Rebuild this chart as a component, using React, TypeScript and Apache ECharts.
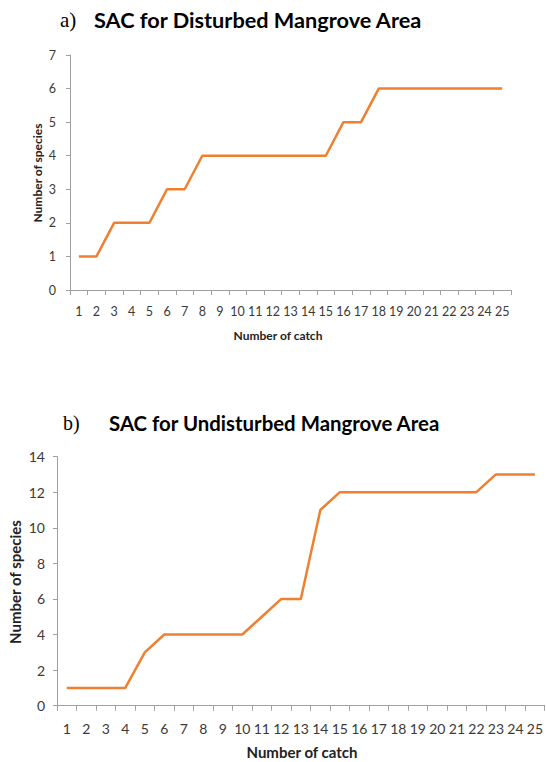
import React, { useEffect, useRef } from "react";
import * as echarts from "echarts";

const catches: string[] = Array.from({ length: 25 }, (_, i) => String(i + 1));
const disturbedSpecies: number[] = [1, 1, 2, 2, 2, 3, 3, 4, 4, 4, 4, 4, 4, 4, 4, 5, 5, 6, 6, 6, 6, 6, 6, 6, 6];
const undisturbedSpecies: number[] = [1, 1, 1, 1, 3, 4, 4, 4, 4, 4, 5, 6, 6, 11, 12, 12, 12, 12, 12, 12, 12, 12, 13, 13, 13];

const titleA = "SAC for Disturbed Mangrove Area";
const titleB = "SAC for Undisturbed Mangrove Area";
const xName = "Number of catch";
const yName = "Number of species";

const LINE = "#F0802F";
const AXIS = "#A0A0A0";
const LABEL = "#3a3a3a";
const SANS = "Lato, 'Open Sans', sans-serif";

export default function App() {
  const ref = useRef<HTMLDivElement>(null);
  useEffect(() => {
    if (!ref.current) return;
    const chart = echarts.init(ref.current, undefined, { renderer: "svg" });
    const xAxisBase = (fs: number, margin: number) => ({
      type: "category" as const,
      data: catches,
      boundaryGap: true,
      axisLine: { lineStyle: { color: AXIS, width: 1 } },
      axisTick: { show: true, length: 5, lineStyle: { color: AXIS } },
      axisLabel: { color: LABEL, fontSize: fs, fontFamily: SANS, margin, interval: 0 },
      splitLine: { show: false },
    });
    const yAxisBase = (max: number, interval: number, fs: number, margin: number) => ({
      type: "value" as const,
      min: 0,
      max,
      interval,
      axisLine: { show: true, lineStyle: { color: AXIS, width: 1 } },
      axisTick: { show: true, length: 4, lineStyle: { color: AXIS } },
      axisLabel: { color: LABEL, fontSize: fs, fontFamily: SANS, margin },
      splitLine: { show: false },
    });
    chart.setOption({
      animation: false,
      backgroundColor: "#ffffff",
      grid: [
        { left: 70, top: 55, width: 441, height: 235 },
        { left: 57, top: 456.6, width: 489, height: 249.1 },
      ],
      xAxis: [
        { ...xAxisBase(12.5, 15), gridIndex: 0 },
        { ...xAxisBase(14, 16), gridIndex: 1 },
      ],
      yAxis: [
        { ...yAxisBase(7, 1, 12.5, 14), gridIndex: 0 },
        { ...yAxisBase(14, 2, 14, 12), gridIndex: 1 },
      ],
      series: [
        {
          type: "line",
          xAxisIndex: 0,
          yAxisIndex: 0,
          data: disturbedSpecies,
          showSymbol: false,
          symbol: "none",
          lineStyle: { color: LINE, width: 2.5 },
        },
        {
          type: "line",
          xAxisIndex: 1,
          yAxisIndex: 1,
          data: undisturbedSpecies,
          showSymbol: false,
          symbol: "none",
          lineStyle: { color: LINE, width: 2.5 },
        },
      ],
      graphic: [
        {
          type: "text",
          x: 60,
          y: 20,
          style: { text: "a)", font: "21px 'Liberation Serif', serif", fill: "#000", textVerticalAlign: "middle" },
        },
        {
          type: "text",
          x: 94,
          y: 20,
          style: { text: titleA, font: `bold 21.7px ${SANS}`, fill: "#000", textVerticalAlign: "middle" },
        },
        {
          type: "text",
          x: 63,
          y: 423,
          style: { text: "b)", font: "20px 'Liberation Serif', serif", fill: "#000", textVerticalAlign: "middle" },
        },
        {
          type: "text",
          x: 109,
          y: 423,
          style: { text: titleB, font: `bold 20.4px ${SANS}`, fill: "#000", textVerticalAlign: "middle" },
        },
        {
          type: "text",
          x: 278,
          y: 335,
          style: { text: xName, font: `bold 12px ${SANS}`, fill: "#222", textAlign: "center", textVerticalAlign: "middle" },
        },
        {
          type: "text",
          x: 37,
          y: 173,
          rotation: Math.PI / 2,
          style: { text: yName, font: `bold 12px ${SANS}`, fill: "#222", textAlign: "center", textVerticalAlign: "middle" },
        },
        {
          type: "text",
          x: 302,
          y: 752,
          style: { text: xName, font: `bold 15px ${SANS}`, fill: "#222", textAlign: "center", textVerticalAlign: "middle" },
        },
        {
          type: "text",
          x: 15,
          y: 582,
          rotation: Math.PI / 2,
          style: { text: yName, font: `bold 15px ${SANS}`, fill: "#222", textAlign: "center", textVerticalAlign: "middle" },
        },
      ],
    });
    return () => chart.dispose();
  }, []);
  return (
    <div
      ref={ref}
      style={{ position: "fixed", left: 0, top: 0, width: 546, height: 762, background: "#fff" }}
    />
  );
}
